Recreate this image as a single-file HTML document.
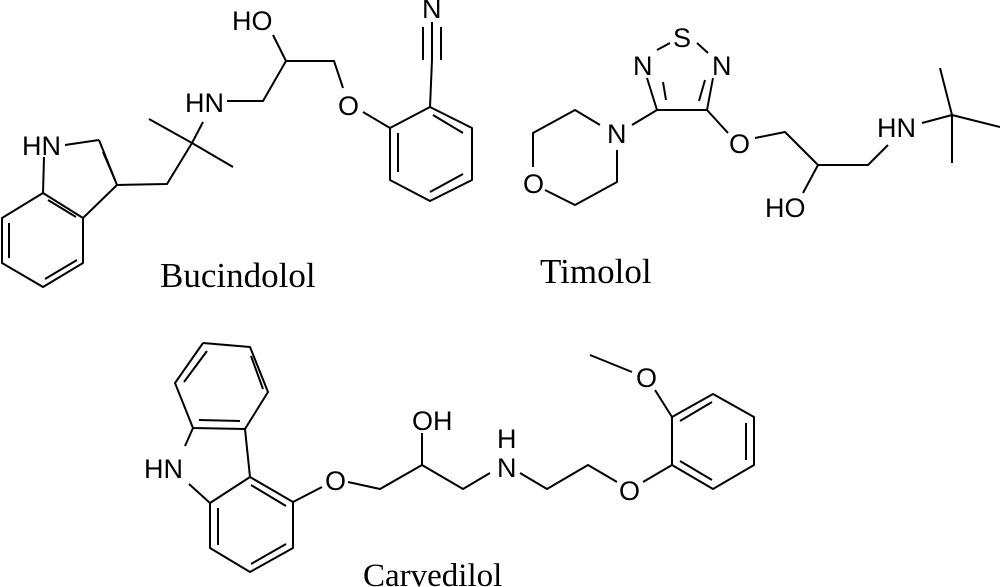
<!DOCTYPE html>
<html><head><style>
html,body{margin:0;padding:0;background:#fff;}
svg{display:block}
.a{font-family:"Liberation Sans",Arial,sans-serif;font-size:27px;fill:#000}
.n{font-family:"Liberation Serif","Times New Roman",serif;font-size:35px;fill:#000}
</style></head><body>
<svg width="1000" height="587" viewBox="0 0 1000 587" xmlns="http://www.w3.org/2000/svg">
<g stroke="#000" stroke-width="2" fill="none" stroke-linejoin="round">
<!-- Bucindolol -->
<polyline points="43,193 83,218 83,263 43,287 2,263 2,218 43,193"/>
<line x1="9" y1="223" x2="9" y2="258"/>
<line x1="45" y1="279" x2="77" y2="260"/>
<line x1="48" y1="200" x2="76" y2="217"/>
<line x1="44" y1="157" x2="43" y2="193"/>
<line x1="65" y1="145" x2="99" y2="140"/>
<line x1="99" y1="140" x2="117" y2="185"/>
<line x1="103" y1="152" x2="115" y2="180"/>
<line x1="117" y1="185" x2="83" y2="218"/>
<polyline points="117,185 167,184 192,143 149,119"/>
<line x1="192" y1="143" x2="233" y2="167"/>
<line x1="192" y1="143" x2="203" y2="122"/>
<polyline points="227,101 263,101 286,61 334,61 343,88"/>
<line x1="286" y1="61" x2="273" y2="35"/>
<line x1="363" y1="112" x2="390" y2="128"/>
<polyline points="390,128 430,107 472,128 472,180 430,201 390,180 390,128"/>
<line x1="433" y1="115" x2="463" y2="133"/>
<line x1="430" y1="192" x2="463" y2="174"/>
<line x1="398" y1="133" x2="398" y2="172"/>
<line x1="430" y1="107" x2="432" y2="60"/>
<line x1="423" y1="60" x2="423" y2="27"/>
<line x1="432" y1="60" x2="432" y2="22"/>
<line x1="441" y1="60" x2="441" y2="27"/>
<!-- Timolol -->
<line x1="657" y1="50" x2="670" y2="43"/>
<line x1="697" y1="43" x2="708" y2="53"/>
<line x1="647" y1="78" x2="657" y2="110"/>
<line x1="663" y1="82" x2="666" y2="100"/>
<line x1="713" y1="78" x2="707" y2="110"/>
<line x1="705" y1="80" x2="699" y2="101"/>
<line x1="657" y1="110" x2="707" y2="110"/>
<line x1="632" y1="125" x2="657" y2="110"/>
<polyline points="600,125 575,110 533,133 533,167"/>
<polyline points="545,190 575,205 617,182 617,150"/>
<line x1="707" y1="110" x2="728" y2="133"/>
<polyline points="755,138 785,132 818,165 868,165 888,145"/>
<line x1="818" y1="165" x2="803" y2="193"/>
<line x1="922" y1="123" x2="952" y2="115"/>
<line x1="952" y1="115" x2="940" y2="68"/>
<line x1="952" y1="115" x2="1000" y2="127"/>
<line x1="952" y1="115" x2="952" y2="163"/>
<!-- Carvedilol -->
<polyline points="203,343 250,347 268,392 245,429 193,428 175,383 203,343"/>
<line x1="184" y1="382" x2="207" y2="351"/>
<line x1="251" y1="356" x2="263" y2="389"/>
<line x1="199" y1="420" x2="240" y2="421"/>
<line x1="245" y1="429" x2="250" y2="477"/>
<line x1="185" y1="446" x2="193" y2="428"/>
<line x1="189" y1="484" x2="210" y2="503"/>
<polyline points="210,503 250,477 293,502 293,548 250,572 210,548 210,503"/>
<line x1="218" y1="508" x2="218" y2="545"/>
<line x1="251" y1="564" x2="286" y2="544"/>
<line x1="251" y1="485" x2="286" y2="506"/>
<line x1="293" y1="502" x2="322" y2="487"/>
<polyline points="348,482 380,489 422,465 463,489 490,473"/>
<line x1="422" y1="465" x2="422" y2="433"/>
<polyline points="520,473 547,489 588,465 617,482"/>
<line x1="643" y1="482" x2="672" y2="465"/>
<polyline points="672,465 672,417 713,394 754,417 754,465 713,489 672,465"/>
<line x1="680" y1="421" x2="712" y2="402"/>
<line x1="746" y1="423" x2="746" y2="460"/>
<line x1="680" y1="461" x2="712" y2="480"/>
<line x1="672" y1="417" x2="655" y2="390"/>
<line x1="632" y1="372" x2="590" y2="355"/>
</g>
<g class="a">
<text x="22" y="155">HN</text>
<text x="185" y="112">HN</text>
<text x="232" y="30">HO</text>
<text x="338" y="115">O</text>
<text x="422" y="18">N</text>
<text x="673" y="47">S</text>
<text x="633" y="75">N</text>
<text x="712" y="75">N</text>
<text x="607" y="143">N</text>
<text x="523" y="193">O</text>
<text x="729" y="153">O</text>
<text x="765" y="217">HO</text>
<text x="877" y="137">HN</text>
<text x="144" y="478">HN</text>
<text x="325" y="490">O</text>
<text x="412" y="430">OH</text>
<text x="497" y="448">H</text>
<text x="497" y="477">N</text>
<text x="619" y="500">O</text>
<text x="636" y="387">O</text>
</g>
<g class="n">
<text x="160" y="287">Bucindolol</text>
<text x="540" y="283">Timolol</text>
<text x="363" y="586" font-size="33">Carvedilol</text>
</g>
</svg>
</body></html>
